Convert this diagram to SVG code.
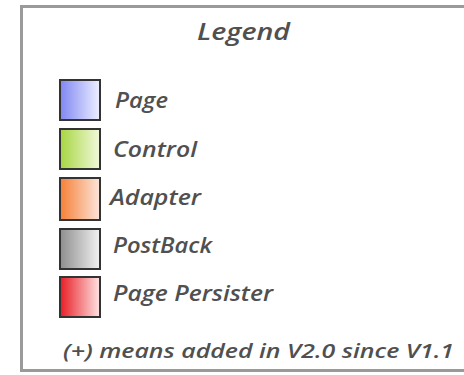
<svg xmlns="http://www.w3.org/2000/svg" width="464" height="375" viewBox="0 0 464 375">
<style>
.lbl{font-family:"Open Sans","Liberation Sans",sans-serif;font-style:italic;font-weight:600;fill:#505050;font-size:21px}
.sw{stroke:#333;stroke-width:2}
</style>
<defs>
<linearGradient id="gPage" x1="0" y1="0" x2="1" y2="0"><stop offset="0" stop-color="#7f86f2"/><stop offset="1" stop-color="#eef0ff"/></linearGradient>
<linearGradient id="gCtrl" x1="0" y1="0" x2="1" y2="0"><stop offset="0" stop-color="#a6d640"/><stop offset="1" stop-color="#f2f9dc"/></linearGradient>
<linearGradient id="gAdap" x1="0" y1="0" x2="1" y2="0"><stop offset="0" stop-color="#f57f35"/><stop offset="1" stop-color="#fde6dc"/></linearGradient>
<linearGradient id="gPost" x1="0" y1="0" x2="1" y2="0"><stop offset="0" stop-color="#8e8e8e"/><stop offset="1" stop-color="#f2f2f2"/></linearGradient>
<linearGradient id="gPers" x1="0" y1="0" x2="1" y2="0"><stop offset="0" stop-color="#e81c24"/><stop offset="1" stop-color="#ffe4e4"/></linearGradient>
</defs>
<rect width="464" height="375" fill="#ffffff"/>
<rect x="21.5" y="6.5" width="460" height="364" fill="#ffffff" stroke="#9a9a9a" stroke-width="3"/>
<text class="lbl" x="197" y="40" style="font-size:24px" textLength="93" lengthAdjust="spacingAndGlyphs">Legend</text>
<g id="page"><rect class="sw" x="60" y="80" width="40" height="40" fill="url(#gPage)"/><text class="lbl" x="115" y="108" textLength="53" lengthAdjust="spacingAndGlyphs">Page</text></g>
<g id="control"><rect class="sw" x="60" y="129" width="40" height="40" fill="url(#gCtrl)"/><text class="lbl" x="113" y="157" textLength="84" lengthAdjust="spacingAndGlyphs">Control</text></g>
<g id="adapter"><rect class="sw" x="60" y="178" width="40" height="42" fill="url(#gAdap)"/><text class="lbl" x="110" y="205" textLength="91" lengthAdjust="spacingAndGlyphs">Adapter</text></g>
<g id="postback"><rect class="sw" x="60" y="229" width="40" height="40" fill="url(#gPost)"/><text class="lbl" x="113" y="253" textLength="99" lengthAdjust="spacingAndGlyphs">PostBack</text></g>
<g id="persister"><rect class="sw" x="60" y="277" width="40" height="40" fill="url(#gPers)"/><text class="lbl" x="113" y="301" textLength="160" lengthAdjust="spacingAndGlyphs">Page Persister</text></g>
<g id="connectors"></g>
<text class="lbl" x="63" y="358" style="font-size:20px" textLength="391" lengthAdjust="spacingAndGlyphs">(+) means added in V2.0 since V1.1</text>
</svg>
